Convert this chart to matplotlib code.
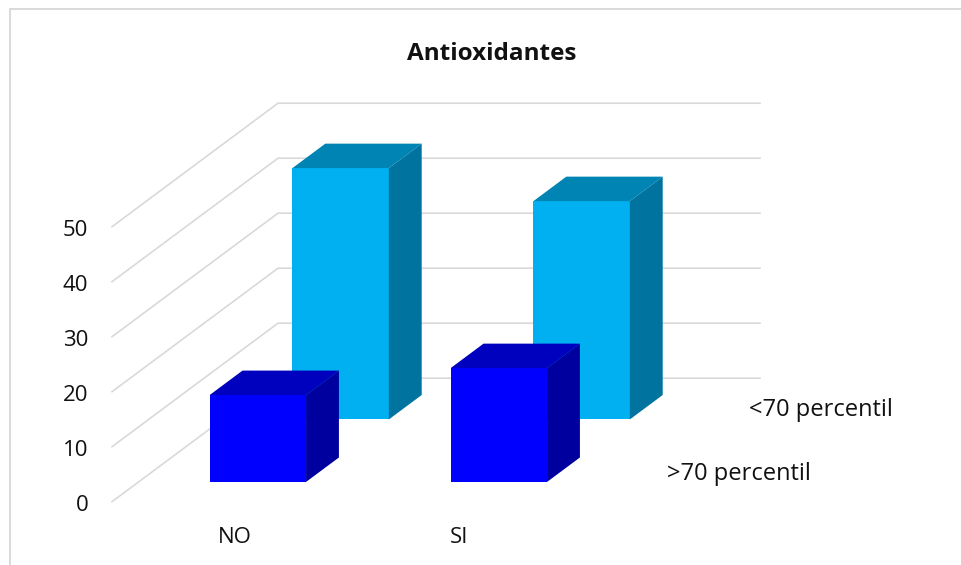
import matplotlib
matplotlib.use("Agg")
import matplotlib.pyplot as plt
from matplotlib.patches import Polygon
from matplotlib.lines import Line2D
from matplotlib.transforms import ScaledTranslation

W, H = 962, 565

categories = ["NO", "SI"]
series_names = [">70 percentil", "<70 percentil"]
front_values = [15.8, 20.7]   # >70 percentil
back_values = [45.7, 39.7]    # <70 percentil
y_ticks = [0, 10, 20, 30, 40, 50]

plt.rcParams['font.family'] = ['Open Sans', 'DejaVu Sans']

fig = plt.figure(figsize=(W / 100, H / 100), dpi=100)
ax = fig.add_axes([112 / W, 1 - 501.7 / H, 482 / W, 275 / H])
ax.set_xlim(0, 2)
ax.set_ylim(0, 50)
for s in ax.spines.values():
    s.set_visible(False)
ax.patch.set_visible(False)

# oblique depth, in data units
DX = 166 / 241
DY = 123.5 / 5.5


def proj(x, y, d):
    return (x + DX * d, y + DY * d)


# gridlines: left wall plus back wall
for v in y_ticks:
    pts = [proj(0, v, 0), proj(0, v, 1), proj(2, v, 1)]
    ax.plot([p[0] for p in pts], [p[1] for p in pts], color="#d9d9d9", lw=1.2,
            clip_on=False, zorder=1, solid_joinstyle="miter")


def bar3d(x0, x1, h, d0, d1, front, top, side, z):
    ax.add_patch(Polygon([proj(x0, 0, d0), proj(x1, 0, d0), proj(x1, h, d0), proj(x0, h, d0)],
                         fc=front, ec="none", clip_on=False, zorder=z))
    ax.add_patch(Polygon([proj(x0, h, d0), proj(x1, h, d0), proj(x1, h, d1), proj(x0, h, d1)],
                         fc=top, ec="none", clip_on=False, zorder=z))
    ax.add_patch(Polygon([proj(x1, 0, d0), proj(x1, 0, d1), proj(x1, h, d1), proj(x1, h, d0)],
                         fc=side, ec="none", clip_on=False, zorder=z))


for i, v in enumerate(back_values):
    bar3d(i + 0.29, i + 0.69, v, 0.666, 0.864, "#00b0f0", "#0084b4", "#00749f", 3 + i * 0.1)
for i, v in enumerate(front_values):
    bar3d(i + 0.295, i + 0.695, v, 0.16, 0.358, "#0000ff", "#0000bf", "#00009f", 4 + i * 0.1)

ax.set_xticks([])
ax.set_yticks(y_ticks)
ax.tick_params(axis="y", length=0, pad=17, labelsize=16, labelcolor="#111111")
# nudge tick labels down a little
shift = ScaledTranslation(0, -1.5 / 100, fig.dpi_scale_trans)
for lab in ax.get_yticklabels():
    lab.set_transform(lab.get_transform() + shift)

# chart frame, only top and left edges are inside the crop
fig.add_artist(Line2D([10 / W, 10 / W, 1], [0, 1 - 9 / H, 1 - 9 / H], transform=fig.transFigure,
                      color="#d9d9d9", lw=1.4, solid_joinstyle="miter"))

fig.text(491.5 / W, 1 - 53.5 / H, "Antioxidantes", ha="center", va="center",
         fontsize=17.5, fontweight="bold", color="#111111")
fig.text(234.5 / W, 1 - 537.5 / H, categories[0], ha="center", va="center", fontsize=16, color="#111111")
fig.text(459 / W, 1 - 537.5 / H, categories[1], ha="center", va="center", fontsize=16, color="#111111")
fig.text(667 / W, 1 - 473.5 / H, series_names[0], ha="left", va="center", fontsize=17, color="#111111")
fig.text(749 / W, 1 - 409.5 / H, series_names[1], ha="left", va="center", fontsize=17, color="#111111")

fig.savefig("out.png", dpi=100)
